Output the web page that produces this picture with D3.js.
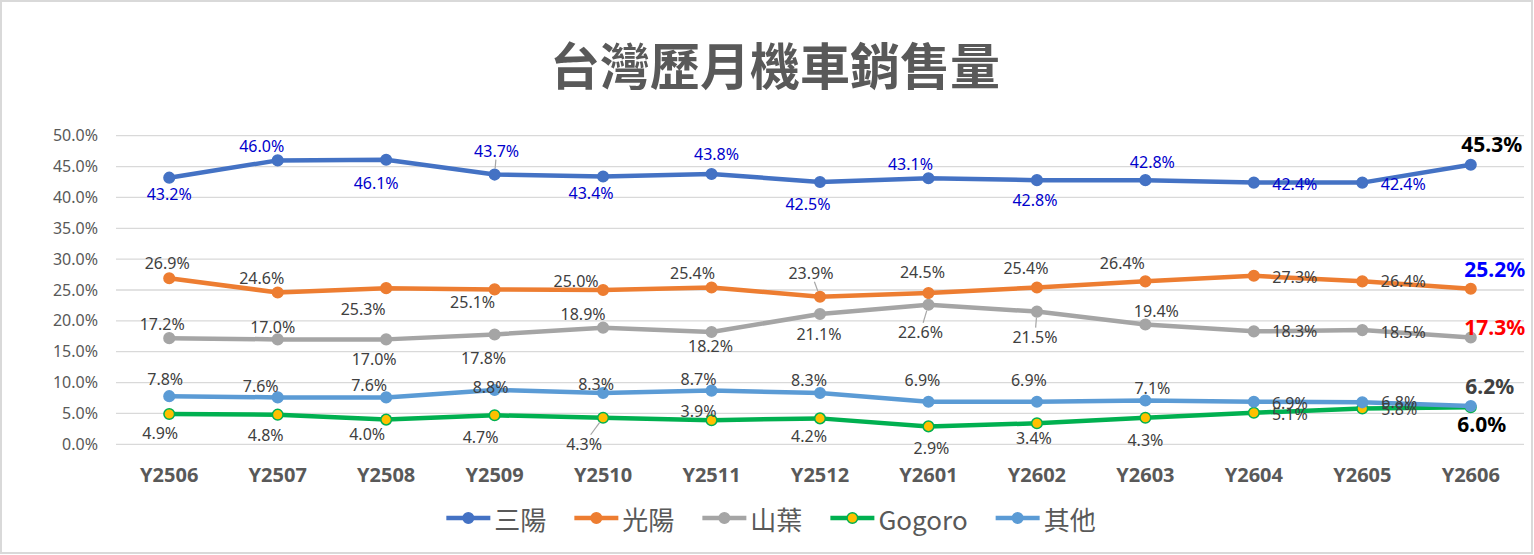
<!DOCTYPE html>
<meta charset="UTF-8">
<script src="https://cdn.jsdelivr.net/npm/d3@7"></script>
<style>
  body { margin: 0; background: #fff; }
</style>
<div id="chart"></div>
<script>

  // Data
  const months = ["Y2506", "Y2507", "Y2508", "Y2509", "Y2510", "Y2511", "Y2512",
                  "Y2601", "Y2602", "Y2603", "Y2604", "Y2605", "Y2606"];
  const sanyang = [43.2, 46.0, 46.1, 43.7, 43.4, 43.8, 42.5, 43.1, 42.8, 42.8, 42.4, 42.4, 45.3];
  const kymco   = [26.9, 24.6, 25.3, 25.1, 25.0, 25.4, 23.9, 24.5, 25.4, 26.4, 27.3, 26.4, 25.2];
  const yamaha  = [17.2, 17.0, 17.0, 17.8, 18.9, 18.2, 21.1, 22.6, 21.5, 19.4, 18.3, 18.5, 17.3];
  const gogoro  = [4.9, 4.8, 4.0, 4.7, 4.3, 3.9, 4.2, 2.9, 3.4, 4.3, 5.1, 5.8, 6.0];
  const others  = [7.8, 7.6, 7.6, 8.8, 8.3, 8.7, 8.3, 6.9, 6.9, 7.1, 6.9, 6.8, 6.2];
  const seriesNames = ["三陽", "光陽", "山葉", "Gogoro", "其他"];
  const yTicks = [0, 5, 10, 15, 20, 25, 30, 35, 40, 45, 50];

  // label nudges (dx, dy from the point), like dragged Excel labels
  const nudgeSanyang = [[0,16],[-16,-14],[-10,23],[2,-24],[-12,17],[5,-20],[-12,22],[-18,-14],[-2,20],[7,-18],[41,1],[41,1],[21,-21]];
  const nudgeKymco   = [[-2,-15],[-16,-14],[-23,21],[-22,13],[-27,-9],[-19,-15],[-9,-24],[-6,-21],[-11,-20],[-23,-18],[41,1],[41,0],[24,-20]];
  const nudgeYamaha  = [[-7,-14],[-5,-12],[-12,20],[-11,24],[-20,-14],[-1,14],[-1,20],[-8,27],[-2,25],[11,-14],[41,0],[41,2],[24,-11]];
  const nudgeGogoro  = [[-9,19],[-12,20],[-19,14],[-14,22],[-19,26],[-13,-9],[-11,18],[3,22],[-3,15],[0,22],[36,1],[37,0],[11,17]];
  const nudgeOthers  = [[-4,-17],[-17,-11],[-17,-12],[-4,-3],[-7,-9],[-13,-12],[-11,-13],[-6,-22],[-8,-22],[7,-12],[36,1],[37,0],[19,-20]];
  const leaderPoints = [[3], [6], [7, 8], [4], []];

  const series = [
    {name: seriesNames[0], values: sanyang, nudge: nudgeSanyang, color: "#4472C4", fill: "#4472C4", label: "#0000CC", last: "#000000"},
    {name: seriesNames[1], values: kymco,   nudge: nudgeKymco,   color: "#ED7D31", fill: "#ED7D31", label: "#404040", last: "#0000FF"},
    {name: seriesNames[2], values: yamaha,  nudge: nudgeYamaha,  color: "#A5A5A5", fill: "#A5A5A5", label: "#404040", last: "#FF0000"},
    {name: seriesNames[3], values: gogoro,  nudge: nudgeGogoro,  color: "#00B050", fill: "#FFC000", label: "#404040", last: "#000000"},
    {name: seriesNames[4], values: others,  nudge: nudgeOthers,  color: "#5B9BD5", fill: "#5B9BD5", label: "#404040", last: "#404040"}
  ];

  const W = 1534, H = 555;
  const numFont = "'Noto Sans', 'Noto Sans CJK TC', sans-serif";
  const cjkFont = "'Noto Sans CJK TC', 'Noto Sans', sans-serif";

  const svg = d3.select("#chart")
    .append("svg")
    .attr("width", W)
    .attr("height", H);

  svg.append("rect")
    .attr("x", 1).attr("y", 1)
    .attr("width", W - 3).attr("height", H - 3)
    .attr("fill", "#fff")
    .attr("stroke", "#D9D9D9")
    .attr("stroke-width", 2);

  // Scales
  const x = d3.scaleBand()
    .domain(months)
    .range([115, 1525])
    .padding(0);

  const y = d3.scaleLinear()
    .domain([0, 50])
    .range([444.3, 135.7]);

  const cx = m => x(m) + x.bandwidth() / 2;
  const fmt = v => v.toFixed(1) + "%";

  // Title
  svg.append("text")
    .attr("x", 775)
    .attr("y", 63)
    .attr("text-anchor", "middle")
    .attr("dominant-baseline", "central")
    .style("font-family", cjkFont)
    .style("font-size", "50px")
    .style("font-weight", "bold")
    .style("fill", "#595959")
    .text("台灣歷月機車銷售量");

  // Grid
  svg.append("g")
    .selectAll("line")
    .data(yTicks)
    .join("line")
    .attr("x1", 116)
    .attr("x2", 1524)
    .attr("y1", d => y(d))
    .attr("y2", d => y(d))
    .attr("stroke", "#D9D9D9")
    .attr("stroke-width", 1.3);

  // Y axis
  const yAxis = svg.append("g")
    .attr("transform", "translate(116,0)")
    .call(d3.axisLeft(y).tickValues(yTicks).tickFormat(fmt).tickSize(0).tickPadding(18));
  yAxis.select(".domain").remove();
  yAxis.selectAll("text")
    .style("font-family", numFont)
    .style("font-size", "16px")
    .style("fill", "#595959");

  // X axis
  const xAxis = svg.append("g")
    .attr("transform", "translate(0,444)")
    .call(d3.axisBottom(x).tickSize(0).tickPadding(24));
  xAxis.select(".domain").remove();
  xAxis.selectAll("text")
    .style("font-family", numFont)
    .style("font-size", "20px")
    .style("font-weight", "bold")
    .style("fill", "#595959");

  // Lines and markers
  const line = d3.line()
    .x((d, i) => cx(months[i]))
    .y(d => y(d));

  series.forEach(s => {
    svg.append("path")
      .datum(s.values)
      .attr("d", line)
      .attr("fill", "none")
      .attr("stroke", s.color)
      .attr("stroke-width", 4.5)
      .attr("stroke-linejoin", "round")
      .attr("stroke-linecap", "round");

    svg.append("g")
      .selectAll("circle")
      .data(s.values)
      .join("circle")
      .attr("cx", (d, i) => cx(months[i]))
      .attr("cy", d => y(d))
      .attr("r", 5.3)
      .attr("fill", s.fill)
      .attr("stroke", s.color)
      .attr("stroke-width", 1.5);
  });

  // Data labels
  const labelLayer = svg.append("g");
  const leaderLayer = svg.insert("g", () => labelLayer.node());

  series.forEach((s, si) => {
    s.values.forEach((v, i) => {
      const px = cx(months[i]), py = y(v);
      const isLast = i === s.values.length - 1;
      const lx = px + s.nudge[i][0], ly = py + s.nudge[i][1];

      const t = labelLayer.append("text")
        .attr("x", lx)
        .attr("y", ly)
        .attr("text-anchor", "middle")
        .attr("dominant-baseline", "central")
        .style("font-family", numFont)
        .style("font-size", isLast ? "21px" : "16px")
        .style("font-weight", isLast ? "bold" : "normal")
        .style("fill", isLast ? s.last : s.label)
        .text(fmt(v));

      if (leaderPoints[si].includes(i)) {
        const bb = t.node().getBBox();
        const dx = px - lx, dy = py - ly;
        const k = Math.min(Math.abs((bb.width / 2) / (dx || 1e-6)), Math.abs((bb.height / 2 - 2) / (dy || 1e-6)));
        const len = Math.hypot(dx, dy);
        leaderLayer.append("line")
          .attr("x1", lx + dx * k)
          .attr("y1", ly + dy * k)
          .attr("x2", px - dx / len * 6)
          .attr("y2", py - dy / len * 6)
          .attr("stroke", "#A6A6A6")
          .attr("stroke-width", 1.2);
      }
    });
  });

  // Legend
  const legend = svg.append("g");
  let lx = 0;
  series.forEach(s => {
    const item = legend.append("g").attr("transform", `translate(${lx},0)`);
    item.append("line")
      .attr("x1", 0).attr("x2", 44)
      .attr("y1", 0).attr("y2", 0)
      .attr("stroke", s.color)
      .attr("stroke-width", 4.5);
    item.append("circle")
      .attr("cx", 22).attr("cy", 0).attr("r", 5.3)
      .attr("fill", s.fill)
      .attr("stroke", s.color)
      .attr("stroke-width", 1.5);
    const t = item.append("text")
      .attr("x", 48)
      .attr("y", 0)
      .attr("dominant-baseline", "central")
      .style("font-family", cjkFont)
      .style("font-size", "26px")
      .style("fill", "#595959")
      .text(s.name);
    lx += 48 + t.node().getComputedTextLength() + 28;
  });
  const legendWidth = lx - 28;
  legend.attr("transform", `translate(${771 - legendWidth / 2},518)`);

</script>
